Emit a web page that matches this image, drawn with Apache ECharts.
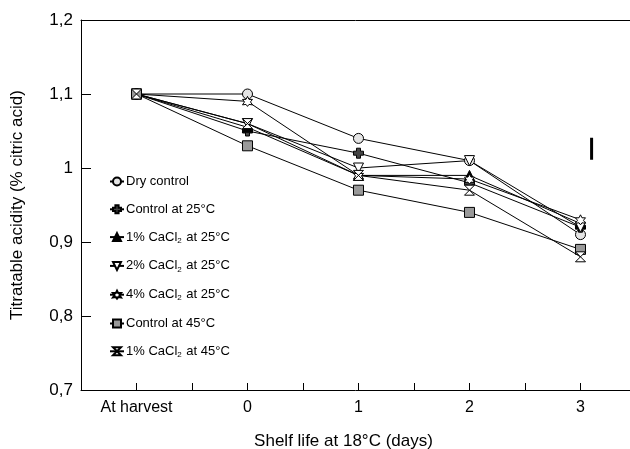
<!DOCTYPE html>
<html>
<head>
<meta charset="utf-8">
<script src="https://cdn.jsdelivr.net/npm/echarts@6/dist/echarts.min.js"></script>
<style>
  html, body { margin: 0; padding: 0; background: #fff; }
  #chart { width: 630px; height: 449px; }
</style>
</head>
<body>
<div id="chart"></div>
<script>
// x positions: -1 = "At harvest", then shelf-life days
var days = [-1, 0, 1, 2, 3];
var xTickLabels = { '-1': 'At harvest', '0': '0', '1': '1', '2': '2', '3': '3' };

var seriesNames = [
    'Dry control',
    'Control at 25°C',
    '1% CaCl2 at 25°C',
    '2% CaCl2 at 25°C',
    '4% CaCl2 at 25°C',
    'Control at 45°C',
    '1% CaCl2 at 45°C'
];

var dryControl  = [1.10, 1.10, 1.04, 1.01, 0.91];
var control25   = [1.10, 1.05, 1.02, 0.98, 0.92];
var cacl1at25   = [1.10, 1.055, 0.99, 0.99, 0.925];
var cacl2at25   = [1.10, 1.06, 1.00, 1.01, 0.92];
var cacl4at25   = [1.10, 1.09, 0.99, 0.985, 0.93];
var control45   = [1.10, 1.03, 0.97, 0.94, 0.89];
var cacl1at45   = [1.10, 1.06, 0.99, 0.97, 0.88];

// LSD bar drawn at the right of the plot
var lsdX = 3.1;
var lsdRange = [1.011, 1.041];

var allValues = [dryControl, control25, cacl1at25, cacl2at25, cacl4at25, control45, cacl1at45];

var symbols = [
    'circle',
    'path://M3,0H7V3H10V7H7V10H3V7H0V3H3Z',
    'triangle',
    'path://M0,0H10L5,9Z',
    'path://M5,0L6.5,3L10,3L8,5.5L10,8.5L6.5,8L5,10L3.5,8L0,8.5L2,5.5L0,3L3.5,3Z',
    'rect',
    'path://M0,0H10L0,10H10Z'
];
var fills = ['#e4e4e4', '#444', '#000', '#fff', '#fff', '#999', '#fff'];

var font = '"Liberation Sans", Arial, sans-serif';

var myChart = echarts.init(document.getElementById('chart'));

var series = [];
for (var i = 0; i < seriesNames.length; i++) {
    var pts = [];
    for (var j = 0; j < days.length; j++) {
        pts.push([days[j], allValues[i][j]]);
    }
    series.push({
        name: seriesNames[i],
        type: 'line',
        data: pts,
        symbol: symbols[i],
        symbolSize: 10,
        showAllSymbol: true,
        lineStyle: { color: '#000', width: 1 },
        itemStyle: { color: fills[i], borderColor: '#000', borderWidth: 1 },
        emphasis: { disabled: true },
        animation: false
    });
}
series.push({
    name: 'LSD',
    type: 'line',
    data: [[lsdX, lsdRange[0]], [lsdX, lsdRange[1]]],
    symbol: 'none',
    lineStyle: { color: '#000', width: 3 },
    animation: false
});

var option = {
    backgroundColor: '#fff',
    grid: { left: 81, top: 20, right: 0, bottom: 59, outerBoundsMode: 'none' },
    legend: {
        data: seriesNames,
        orient: 'vertical',
        left: 104,
        top: 170,
        itemWidth: 14,
        itemHeight: 10,
        itemGap: 14.8,
        inactiveColor: '#000',
        selectedMode: false,
        formatter: function (name) {
            return name.replace('CaCl2', 'CaCl{sub|2}');
        },
        textStyle: {
            fontFamily: font,
            fontSize: 13,
            color: '#000',
            padding: [0, 0, 0, -3],
            rich: {
                sub: { fontFamily: font, fontSize: 8, color: '#000', verticalAlign: 'bottom', padding: [7, 1, 0, 0] }
            }
        }
    },
    xAxis: [{
        type: 'value',
        min: -1.5,
        max: 3.446,
        interval: 0.5,
        name: 'Shelf life at 18°C (days)',
        nameLocation: 'middle',
        nameGap: 43,
        nameTextStyle: { fontFamily: font, fontSize: 17, color: '#000', padding: [0, 24, 0, 0] },
        axisLine: { onZero: false, lineStyle: { color: '#000', width: 1 } },
        axisTick: { inside: true, length: 7, lineStyle: { color: '#000' } },
        axisLabel: {
            fontFamily: font,
            fontSize: 16,
            color: '#000',
            margin: 10,
            showMaxLabel: false,
            formatter: function (v) {
                var k = String(Math.round(v * 10) / 10);
                return xTickLabels[k] !== undefined ? xTickLabels[k] : '';
            }
        },
        splitLine: { show: false }
    }, {
        type: 'value',
        position: 'top',
        min: -1.5,
        max: 3.446,
        axisLine: { onZero: false, lineStyle: { color: '#000', width: 1 } },
        axisTick: { show: false },
        axisLabel: { show: false },
        splitLine: { show: false }
    }],
    yAxis: {
        type: 'value',
        min: 0.7,
        max: 1.2,
        interval: 0.1,
        name: 'Titratable acidity (% citric acid)',
        nameLocation: 'middle',
        nameGap: 55,
        nameTextStyle: { fontFamily: font, fontSize: 17, color: '#000' },
        axisLine: { show: true, onZero: false, lineStyle: { color: '#000', width: 1 } },
        axisTick: { show: true, inside: true, length: 10, lineStyle: { color: '#000' } },
        axisLabel: {
            fontFamily: font,
            fontSize: 17,
            color: '#000',
            margin: 8,
            formatter: function (v) {
                return String(Math.round(v * 10) / 10).replace('.', ',');
            }
        },
        splitLine: { show: false }
    },
    series: series
};

option && myChart.setOption(option);
</script>
</body>
</html>
